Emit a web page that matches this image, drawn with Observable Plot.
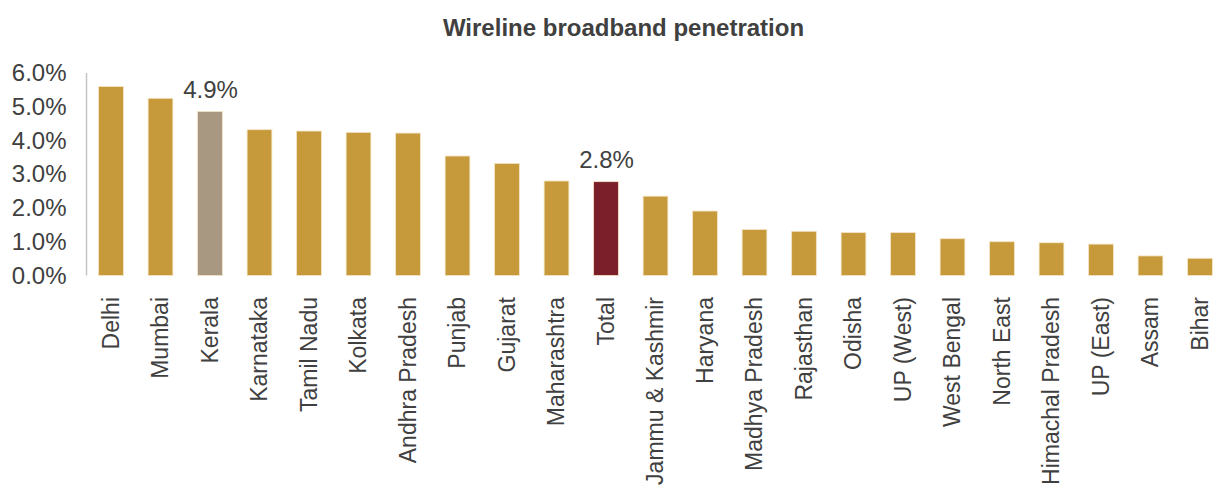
<!DOCTYPE html>
<html>
<head>
<meta charset="utf-8">
<script src="https://cdn.jsdelivr.net/npm/d3@7"></script>
<script src="https://cdn.jsdelivr.net/npm/@observablehq/plot@0.6"></script>
<style>
  html, body { margin: 0; padding: 0; background: #fff; overflow: hidden; width: 1214px; height: 488px; }
  #title { height: 56px; font: bold 24px/56px "Liberation Sans", Arial, sans-serif; text-align: center;
           padding-left: 33px; box-sizing: border-box; color: #404040; }
  #chart svg { display: block; }
</style>
</head>
<body>
<div id="title">Wireline broadband penetration</div>
<div id="chart"></div>
<script>
const regions = ["Delhi", "Mumbai", "Kerala", "Karnataka", "Tamil Nadu", "Kolkata", "Andhra Pradesh",
  "Punjab", "Gujarat", "Maharashtra", "Total", "Jammu & Kashmir", "Haryana", "Madhya Pradesh",
  "Rajasthan", "Odisha", "UP (West)", "West Bengal", "North East", "Himachal Pradesh", "UP (East)",
  "Assam", "Bihar"];
const penetration = [0.0560, 0.0525, 0.0486, 0.0432, 0.0428, 0.0424, 0.0422,
  0.0354, 0.0332, 0.0280, 0.0278, 0.0235, 0.0191, 0.0136,
  0.0131, 0.0127, 0.0127, 0.0109, 0.0100, 0.0097, 0.0093,
  0.0058, 0.0051];
const yTicks = [0, 0.01, 0.02, 0.03, 0.04, 0.05, 0.06];
const labelled = ["Kerala", "Total"];

const data = regions.map((name, i) => ({name, value: penetration[i]}));
const barColor = d => d.name === "Kerala" ? "#a89882" : d.name === "Total" ? "#7b1f2b" : "#c69a3a";
const font = '"Liberation Sans", Arial, sans-serif';

const chart = Plot.plot({
  width: 1214,
  height: 432,
  marginTop: 17,
  marginBottom: 212.5,
  marginLeft: 86,
  marginRight: 0,
  style: {fontFamily: font, color: "#404040", background: "#fff"},
  x: {domain: regions, range: [86.25, 1224.75], paddingInner: 0.5, paddingOuter: 0.25, align: 0.5, round: false},
  y: {domain: [0, 0.06]},
  marks: [
    Plot.barY(data, {x: "name", y: "value", fill: barColor, stroke: "#f3e3c4", strokeWidth: 0.8}),
    Plot.ruleY([0], {x1: 86, x2: 1214, stroke: "#c4c4c4", strokeWidth: 2}),
    Plot.axisY({ticks: yTicks, tickFormat: d3.format(".1%"), tickSize: 0, tickPadding: 20,
      fontSize: 24, fill: "#404040", label: null}),
    Plot.axisX({tickRotate: -90, tickSize: 0, tickPadding: 21, fontSize: 23, fill: "#404040", label: null}),
    Plot.text(data.filter(d => labelled.includes(d.name)), {x: "name", y: "value",
      text: d => d3.format(".1%")(d.value), lineAnchor: "bottom", dy: -14, fontSize: 24, fill: "#404040"})
  ]
});

// left value-axis line, placed with the chart's own scales
const xs = chart.scale("x"), ys = chart.scale("y");
const axisX0 = xs.range[0] + 0.25;
d3.select(chart).append("line")
  .attr("x1", axisX0).attr("x2", axisX0)
  .attr("y1", ys.apply(0)).attr("y2", ys.apply(yTicks[yTicks.length - 1]))
  .attr("stroke", "#c4c4c4").attr("stroke-width", 1.5);

document.getElementById("chart").appendChild(chart);
</script>
</body>
</html>
